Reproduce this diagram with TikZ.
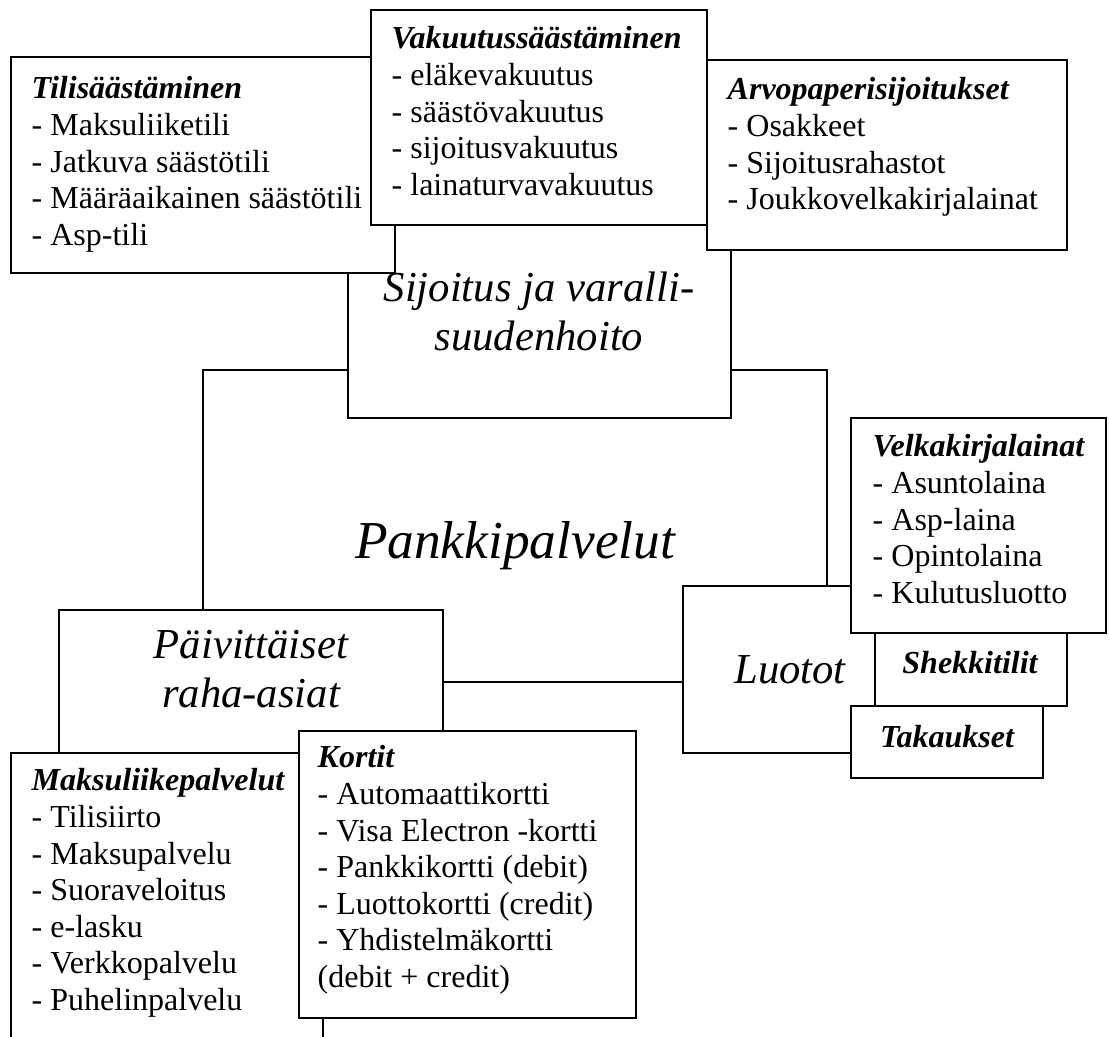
\documentclass[tikz,border=0pt]{standalone}
\usepackage{fontspec}
\setmainfont{Liberation Serif}
\usetikzlibrary{fit}

\tikzset{
  box/.style={draw, fill=white, line width=0.6pt, inner sep=0pt},
  items/.style={anchor=north west, inner sep=0pt, align=left,
    font=\fontsize{12}{13.7}\selectfont},
  heading/.style={inner sep=0pt, align=center,
    font=\fontsize{16}{18.4}\selectfont\itshape},
  tag/.style={anchor=base, inner sep=0pt,
    font=\fontsize{12}{13.7}\selectfont\bfseries\itshape},
}
\newcommand\hd[1]{\textbf{\textit{#1}}}

\begin{document}
\begin{tikzpicture}[x=0.375pt,y=-0.375pt]
 \useasboundingbox (0,0) rectangle (1109,1037);
 \clip (0,0) rectangle (1109,1037);
 % frame in the middle
 \node[box, fit={(203,370) (827,682)}] (pankki) {};
 \node[heading, anchor=base, font=\fontsize{20}{23}\selectfont\itshape] (pankkitxt) at (515,558) {Pankkipalvelut};
 % top group
 \node[box, fit={(348,200) (731,418)}] (sijoitus) {};
 \node[heading, anchor=north] (sijtxt) at (539,271) {Sijoitus ja varalli-\\suudenhoito};
 \node[box, fit={(11,57) (395,273)}] (tili) {};
 \node[items] (tilitxt) at ([shift={(21,20)}]tili.north west)
   {\hd{Tilisäästäminen}\\- Maksuliiketili\\- Jatkuva säästötili\\- Määräaikainen säästötili\\- Asp-tili};
 \node[box, fit={(371,10) (707,225)}] (vakuutus) {};
 \node[items] (vaktxt) at ([shift={(21,17)}]vakuutus.north west)
   {\hd{Vakuutussäästäminen}\\- eläkevakuutus\\- säästövakuutus\\- sijoitusvakuutus\\- lainaturvavakuutus};
 \node[box, fit={(707,60) (1067,250)}] (arvo) {};
 \node[items] (arvotxt) at ([shift={(21,18)}]arvo.north west)
   {\hd{Arvopaperisijoitukset}\\- Osakkeet\\- Sijoitusrahastot\\- Joukkovelkakirjalainat};
 % right group
 \node[box, fit={(683,586) (900,753)}] (luotot) {};
 \node[heading, anchor=base] (luotxt) at (790,683) {Luotot};
 \node[box, fit={(851,418) (1106,633)}] (velka) {};
 \node[items] (velkatxt) at ([shift={(22,17)}]velka.north west)
   {\hd{Velkakirjalainat}\\- Asuntolaina\\- Asp-laina\\- Opintolaina\\- Kulutusluotto};
 \node[box, fit={(875,633) (1067,706)}] (shekki) {};
 \node[tag] (shekkitxt) at (970,673) {Shekkitilit};
 \node[box, fit={(851,706) (1043,778)}] (takaus) {};
 \node[tag] (takaustxt) at (947,747) {Takaukset};
 % bottom group
 \node[box, fit={(59,610) (443,790)}] (paiv) {};
 \node[heading, anchor=north] (paivtxt) at (251,630) {Päivittäiset\\raha-asiat};
 \node[box, fit={(11,753) (323,1060)}] (maksu) {};
 \node[items] (maksutxt) at ([shift={(21,16)}]maksu.north west)
   {\hd{Maksuliikepalvelut}\\- Tilisiirto\\- Maksupalvelu\\- Suoraveloitus\\- e-lasku\\- Verkkopalvelu\\- Puhelinpalvelu};
 \node[box, fit={(299,731) (636,1018)}] (kortit) {};
 \node[items] (kortittxt) at ([shift={(19,15)}]kortit.north west)
   {\hd{Kortit}\\- Automaattikortti\\- Visa Electron -kortti\\- Pankkikortti (debit)\\- Luottokortti (credit)\\- Yhdistelmäkortti\\(debit + credit)};
\end{tikzpicture}
\end{document}
